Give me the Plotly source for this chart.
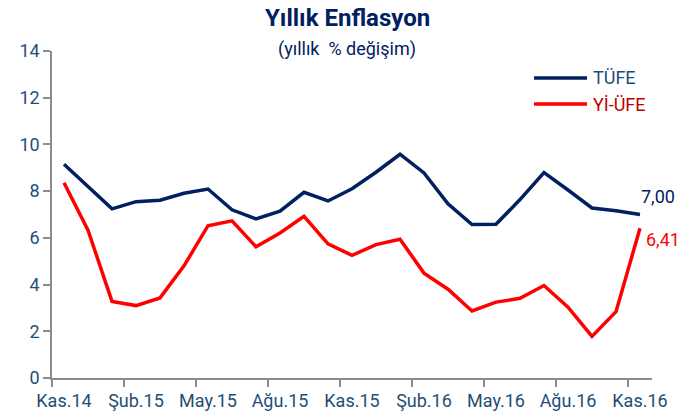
import plotly.graph_objects as go

months = ["Kas.14","Ara.14","Oca.15","Şub.15","Mar.15","Nis.15","May.15","Haz.15","Tem.15","Ağu.15","Eyl.15","Eki.15",
          "Kas.15","Ara.15","Oca.16","Şub.16","Mar.16","Nis.16","May.16","Haz.16","Tem.16","Ağu.16","Eyl.16","Eki.16","Kas.16"]
tufe = [9.15, 8.17, 7.24, 7.55, 7.61, 7.91, 8.09, 7.20, 6.81, 7.14, 7.95, 7.58,
        8.10, 8.81, 9.58, 8.78, 7.46, 6.57, 6.58, 7.64, 8.79, 8.05, 7.28, 7.16, 7.00]
yiufe = [8.36, 6.33, 3.28, 3.10, 3.43, 4.80, 6.52, 6.73, 5.62, 6.21, 6.92, 5.74,
         5.25, 5.71, 5.94, 4.49, 3.80, 2.87, 3.25, 3.41, 3.96, 3.03, 1.78, 2.84, 6.41]
tick_labels = ["Kas.14","Şub.15","May.15","Ağu.15","Kas.15","Şub.16","May.16","Ağu.16","Kas.16"]

NAVY = "#002060"
RED = "#FF0000"
TXT = "#1F4E79"
DARKRED = "#C00000"
AXC = "#8C8C8C"
FONT = "Roboto"

x = list(range(len(months)))
label_pos = [months.index(m) for m in tick_labels]

fig = go.Figure()
fig.add_trace(go.Scatter(x=x, y=tufe, mode="lines", name="TÜFE",
                         line=dict(color=NAVY, width=3.5), hoverinfo="skip"))
fig.add_trace(go.Scatter(x=x, y=yiufe, mode="lines", name="Yİ-ÜFE",
                         line=dict(color=RED, width=3.5), hoverinfo="skip"))

L, R, T, B = 52, 29, 51, 40
W, H = 681, 418
PW, PH = W - L - R, H - T - B

def px(xp):
    return (xp - L) / PW

def py(yp):
    return 1 - (yp - T) / PH

fig.update_layout(
    width=W, height=H,
    margin=dict(l=L, r=R, t=T, b=B),
    paper_bgcolor="white", plot_bgcolor="white",
    showlegend=False,
    font=dict(family=FONT, size=18, color=TXT),
)
fig.update_xaxes(
    range=[-0.5, 24.5], tickvals=label_pos, ticktext=tick_labels,
    ticks="", showgrid=False, zeroline=False, automargin=False,
    showline=True, linecolor=AXC, linewidth=1.5,
    tickfont=dict(family=FONT, size=18, color=TXT),
    ticklabelstandoff=6,
    minor=dict(tickvals=[p - 0.5 for p in label_pos], ticks="outside", ticklen=7,
               tickcolor=AXC, tickwidth=1.5, showgrid=False),
)
fig.update_yaxes(
    range=[0, 14], tickvals=list(range(0, 15, 2)),
    ticks="outside", ticklen=7, tickcolor=AXC, tickwidth=1.5,
    showgrid=False, zeroline=False, automargin=False,
    showline=True, linecolor=AXC, linewidth=1.5,
    tickfont=dict(family=FONT, size=18, color=TXT),
)

ann = []
ann.append(dict(text="<b>Yıllık Enflasyon</b>", xref="paper", yref="paper", x=px(347), y=py(18),
                showarrow=False, font=dict(family=FONT, size=24, color=NAVY), xanchor="center", yanchor="middle"))
ann.append(dict(text="(yıllık  % değişim)", xref="paper", yref="paper", x=px(347), y=py(49),
                showarrow=False, font=dict(family=FONT, size=18, color=NAVY), xanchor="center", yanchor="middle"))
# legend
for i, (nm, col, tcol) in enumerate([("TÜFE", NAVY, TXT), ("Yİ-ÜFE", RED, DARKRED)]):
    yy = py(78 + 26 * i)
    fig.add_shape(type="line", xref="paper", yref="paper", x0=px(534), x1=px(587), y0=yy, y1=yy,
                  line=dict(color=col, width=3.5))
    ann.append(dict(text=nm, xref="paper", yref="paper", x=px(591), y=yy, showarrow=False,
                    xanchor="left", yanchor="middle", font=dict(family=FONT, size=18, color=tcol)))
ann.append(dict(text=f"{tufe[-1]:.2f}".replace(".", ","), x=x[-1], y=tufe[-1], xref="x", yref="y",
                showarrow=False, xanchor="left", yanchor="middle", xshift=-1, yshift=18,
                font=dict(family=FONT, size=18, color=NAVY)))
ann.append(dict(text=f"{yiufe[-1]:.2f}".replace(".", ","), x=x[-1], y=yiufe[-1], xref="x", yref="y",
                showarrow=False, xanchor="left", yanchor="middle", xshift=4, yshift=-11,
                font=dict(family=FONT, size=18, color=RED)))
fig.update_layout(annotations=ann)

fig.write_html("out.html")
